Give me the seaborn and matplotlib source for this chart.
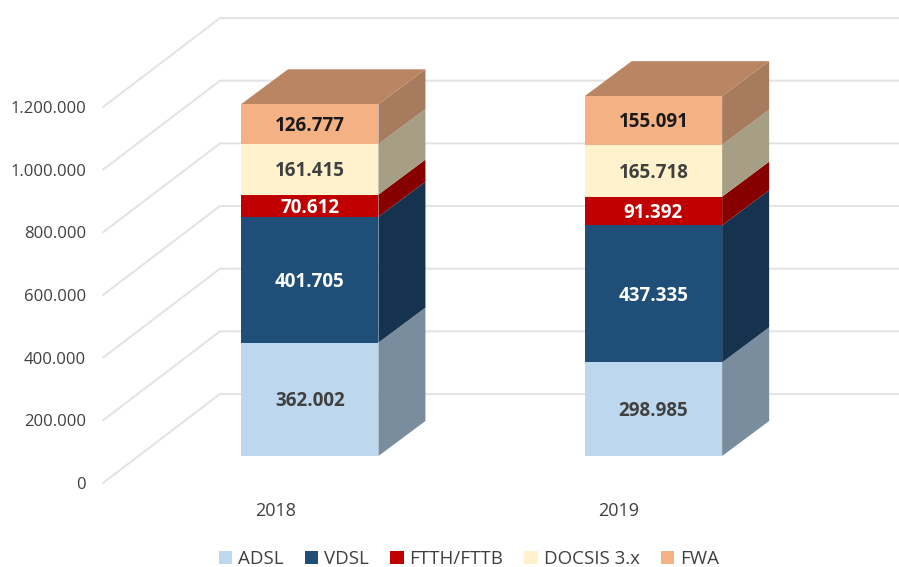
import numpy as np
import pandas as pd
import seaborn as s
import matplotlib.pyplot as plt

years = ["2018", "2019"]
names = ["ADSL", "VDSL", "FTTH/FTTB", "DOCSIS 3.x", "FWA"]
adsl = [362002, 298985]
vdsl = [401705, 437335]
ftth = [70612, 91392]
docsis = [161415, 165718]
fwa = [126777, 155091]
ticks = [0, 200000, 400000, 600000, 800000, 1000000, 1200000]
tick_labels = ["0", "200.000", "400.000", "600.000", "800.000", "1.000.000", "1.200.000"]

colors = ["#BDD7EE", "#1F4E79", "#C00000", "#FFF2CC", "#F4B183"]
sides = ["#7A8D9E", "#15324F", "#870000", "#A69E85", "#A67B5E"]
top_color = "#BA8562"
text_colors = ["#404040", "#FFFFFF", "#FFFFFF", "#404040", "#1A1A1A"]

s.set_theme(style="white")
plt.rcParams["font.family"] = ["Open Sans", "DejaVu Sans"]

W, H = 899, 567
fig = plt.figure(figsize=(W / 100, H / 100), dpi=100)
ax = fig.add_axes([0, 0, 1, 1])

# pixel scales of the picture
px_x = 343.7      # px per category
px_y = 0.0003133  # px per unit
x0_px, y0_px = 309.7, 456
dx = 47 / px_x
dy = 35 / px_y

df = pd.DataFrame({"year": years, "ADSL": adsl, "VDSL": vdsl, "FTTH/FTTB": ftth,
                   "DOCSIS 3.x": docsis, "FWA": fwa})

# back wall and floor lines
for v, lab in zip(ticks, tick_labels):
    y_front = v - 27 / px_y
    y_back = v + 62 / px_y
    x_front = (103 - x0_px) / px_x
    x_back = (220 - x0_px) / px_x
    x_end = (W - x0_px) / px_x
    ax.plot([x_front, x_back, x_end], [y_front, y_back, y_back], color="#E4E4E4", lw=1.5, zorder=1)
    ax.text((86 - x0_px) / px_x, y_front - 2 / px_y, lab, ha="right", va="center", fontsize=12, color="#404040")

# stacked front faces
bottom = np.zeros(2)
w = 0.4
for i, n in enumerate(names):
    vals = df[n].to_numpy()
    s.barplot(data=df, x="year", y=n, bottom=bottom, color=colors[i], saturation=1, width=w,
              errorbar=None, label=n, linewidth=0, ax=ax, zorder=3)
    for j in range(2):
        xr = j + w / 2
        ax.fill([xr, xr + dx, xr + dx, xr],
                [bottom[j], bottom[j] + dy, bottom[j] + vals[j] + dy, bottom[j] + vals[j]],
                color=sides[i], lw=0, zorder=2)
        lab = f"{vals[j]:,}".replace(",", ".")
        ax.text(j, bottom[j] + vals[j] / 2 - 2 / px_y, lab, ha="center", va="center", fontsize=13.5,
                fontweight="bold", color=text_colors[i], zorder=5)
    bottom = bottom + vals

# top faces
for j in range(2):
    xl, xr = j - w / 2, j + w / 2
    ax.fill([xl, xr, xr + dx, xl + dx],
            [bottom[j], bottom[j], bottom[j] + dy, bottom[j] + dy],
            color=top_color, lw=0, zorder=2)
    ax.annotate(years[j], (j, 0), xytext=(-34.5, -55), textcoords="offset pixels",
                ha="center", va="center", fontsize=13, color="#404040")

ax.set_xlim(-x0_px / px_x, (W - x0_px) / px_x)
ax.set_ylim(-(H - y0_px) / px_y, y0_px / px_y)
ax.axis("off")

ax.legend(loc="center", bbox_to_anchor=(469 / W, 1 - 559 / H), ncol=5, frameon=False, fontsize=13.5,
          handlelength=0.72, handleheight=0.72, handletextpad=0.32, columnspacing=1.12,
          labelcolor="#404040", borderpad=0, borderaxespad=0)

plt.savefig("out.png", dpi=100)
